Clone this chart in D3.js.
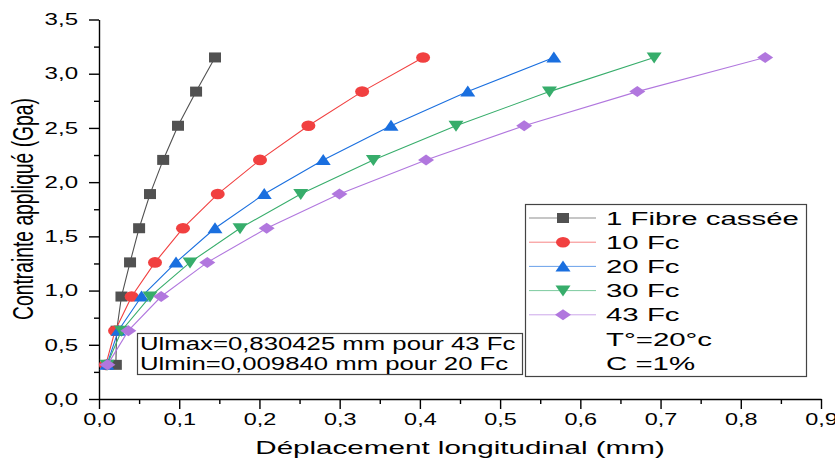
<!DOCTYPE html>
<html>
<head>
<meta charset="utf-8">
<script src="https://cdn.jsdelivr.net/npm/d3@7"></script>
<style>
body { margin: 0; background: #fff; }
svg { display: block; font-family: "Liberation Sans", Arial, sans-serif; }
</style>
</head>
<body>
<svg id="drawing_region"></svg>
<script>
// load levels (GPa), same for every curve
const stress = [0.315, 0.63, 0.945, 1.26, 1.575, 1.89, 2.205, 2.52, 2.835, 3.15];

// longitudinal displacement (mm)
const disp_1fc  = [0.021, 0.022, 0.028, 0.0387, 0.050, 0.0636, 0.080, 0.0985, 0.121, 0.1446];
const disp_10fc = [0.0085, 0.020, 0.0407, 0.0698, 0.1047, 0.148, 0.2007, 0.261, 0.328, 0.404];
const disp_20fc = [0.00984, 0.024, 0.053, 0.096, 0.1446, 0.206, 0.2795, 0.364, 0.4597, 0.567];
const disp_30fc = [0.0100, 0.028, 0.0636, 0.1135, 0.1758, 0.2515, 0.342, 0.445, 0.5615, 0.692];
const disp_43fc = [0.0105, 0.0366, 0.0775, 0.135, 0.209, 0.2997, 0.4077, 0.530, 0.671, 0.830425];

const series_names = ['1 Fibre cassée', '10 Fc', '20 Fc', '30 Fc', '43 Fc'];
const legend_notes = ['T°=20°c', 'C =1%'];
const annot_lines = ['Ulmax=0,830425 mm pour 43 Fc', 'Ulmin=0,009840 mm pour 20 Fc'];

const x_ticks = [0, 0.1, 0.2, 0.3, 0.4, 0.5, 0.6, 0.7, 0.8, 0.9];
const x_minor = [0.05, 0.15, 0.25, 0.35, 0.45, 0.55, 0.65, 0.75, 0.85];
const y_ticks = [0, 0.5, 1.0, 1.5, 2.0, 2.5, 3.0, 3.5];
const y_minor = [0.25, 0.75, 1.25, 1.75, 2.25, 2.75, 3.25];

const colors = ['#515151', '#F14040', '#1A6FDF', '#37AD6B', '#B177DE'];
const shapes = ['square', 'circle', 'up', 'down', 'diamond'];

function markerPath(shape) {
    if (shape == 'square') return 'M-6,-5h12v10h-12Z';
    if (shape == 'circle') return 'M-7,0A7,5.3 0 1,0 7,0A7,5.3 0 1,0 -7,0Z';
    if (shape == 'up') return 'M0,-6L7.5,5L-7.5,5Z';
    if (shape == 'down') return 'M0,6L7.5,-5L-7.5,-5Z';
    return 'M0,-5.5L8,0L0,5.5L-8,0Z';
}

const fr = d3.formatLocale({decimal: ',', thousands: ' ', grouping: [3], currency: ['', '']});
const fmt = fr.format('.1f');

class CurvePlot {

    constructor(config, data) {
        this.config = {
            parent: config.parent,
            width: config.width || 835,
            height: config.height || 460,
            margin: config.margin || {top: 19.5, right: 14, bottom: 61, left: 99},
            stretch: config.stretch || 1.5,
        }
        this.data = data;
        this.init();
    }

    init() {
        let self = this;

        self.svg = d3.select(self.config.parent)
            .attr('width', self.config.width)
            .attr('height', self.config.height);

        self.chart = self.svg.append('g')
            .attr('transform', `translate(${self.config.margin.left}, ${self.config.margin.top})`);

        self.inner_width = self.config.width - self.config.margin.left - self.config.margin.right;
        self.inner_height = self.config.height - self.config.margin.top - self.config.margin.bottom;

        self.xscale = d3.scaleLinear()
            .domain([0, 0.9])
            .range([0, self.inner_width]);

        self.yscale = d3.scaleLinear()
            .domain([0, 3.5])
            .range([self.inner_height, 0]);

        self.line = d3.line()
            .x(d => self.xscale(d.x))
            .y(d => self.yscale(d.y));
    }

    render() {
        let self = this;
        const sx = 1.42;

        // minor ticks
        self.chart.append('g')
            .attr('transform', `translate(0, ${self.inner_height})`)
            .call(d3.axisBottom(self.xscale).tickValues(x_minor).tickSize(5).tickSizeOuter(0).tickFormat(''))
            .call(g => g.select('.domain').remove());
        self.chart.append('g')
            .call(d3.axisLeft(self.yscale).tickValues(y_minor).tickSize(5).tickSizeOuter(0).tickFormat(''))
            .call(g => g.select('.domain').remove());

        const xg = self.chart.append('g')
            .attr('transform', `translate(0, ${self.inner_height})`)
            .call(d3.axisBottom(self.xscale).tickValues(x_ticks).tickSize(10).tickSizeOuter(0).tickPadding(4).tickFormat(fmt));
        xg.selectAll('text')
            .attr('font-size', '16.5px')
            .attr('transform', `scale(${sx},1)`);

        const yg = self.chart.append('g')
            .call(d3.axisLeft(self.yscale).tickValues(y_ticks).tickSize(10).tickSizeOuter(0).tickFormat(fmt));
        yg.selectAll('text')
            .attr('font-size', '16.5px')
            .attr('x', -21 / 1.46)
            .attr('transform', 'scale(1.46,1)');

        self.chart.selectAll('.domain, .tick line')
            .attr('stroke', '#000')
            .attr('stroke-width', 1.4);
        self.chart.selectAll('.tick text').attr('fill', '#000');

        // curves
        self.data.forEach((s, i) => {
            const pts = s.values.map((v, k) => ({x: v, y: stress[k]}));
            const g = self.chart.append('g');
            g.append('path')
                .datum(pts)
                .attr('fill', 'none')
                .attr('stroke', colors[i])
                .attr('stroke-width', 1.1)
                .attr('d', self.line);
            g.selectAll('path.mk')
                .data(pts)
                .enter()
                .append('path')
                .attr('class', 'mk')
                .attr('d', markerPath(shapes[i]))
                .attr('fill', colors[i])
                .attr('transform', d => `translate(${self.xscale(d.x)}, ${self.yscale(d.y)})`);
        });

        // axis titles
        self.svg.append('text')
            .attr('transform', 'translate(460, 454) scale(1.6,1)')
            .attr('text-anchor', 'middle')
            .attr('font-size', '18.5px')
            .text('Déplacement longitudinal (mm)');

        self.svg.append('text')
            .attr('transform', 'translate(33, 209) scale(1.55,1) rotate(-90)')
            .attr('text-anchor', 'middle')
            .attr('font-size', '19.3px')
            .text('Contrainte appliqué (Gpa)');

        // annotation box
        const ann = self.svg.append('g');
        ann.append('rect')
            .attr('x', 137.5).attr('y', 333.5)
            .attr('width', 385).attr('height', 41)
            .attr('fill', '#fff')
            .attr('stroke', '#444')
            .attr('stroke-width', 1.2);
        annot_lines.forEach((t, i) => {
            ann.append('text')
                .attr('transform', `translate(140, ${350 + i * 20}) scale(1.47,1)`)
                .attr('font-size', '17.5px')
                .text(t);
        });

        // legend
        const lg = self.svg.append('g');
        lg.append('rect')
            .attr('x', 525.5).attr('y', 204.5)
            .attr('width', 281).attr('height', 172)
            .attr('fill', '#fff')
            .attr('stroke', '#444')
            .attr('stroke-width', 1.2);
        self.data.forEach((s, i) => {
            const y = 218 + i * 24.2;
            lg.append('line')
                .attr('x1', 529).attr('x2', 596)
                .attr('y1', y).attr('y2', y)
                .attr('stroke', colors[i])
                .attr('stroke-opacity', 0.65)
                .attr('stroke-width', 1);
            lg.append('path')
                .attr('d', markerPath(shapes[i]))
                .attr('fill', colors[i])
                .attr('transform', `translate(563, ${y})`);
            lg.append('text')
                .attr('transform', `translate(606, ${y + 6.5}) scale(1.59,1)`)
                .attr('font-size', '18.5px')
                .text(s.name);
        });
        legend_notes.forEach((t, i) => {
            const y = 218 + (i + 5) * 24.2;
            lg.append('text')
                .attr('transform', `translate(606, ${y + 6.5}) scale(1.59,1)`)
                .attr('font-size', '18.5px')
                .text(t);
        });
    }
}

const all_disp = [disp_1fc, disp_10fc, disp_20fc, disp_30fc, disp_43fc];
const data = series_names.map((n, i) => ({name: n, values: all_disp[i]}));

const plot = new CurvePlot({parent: '#drawing_region'}, data);
plot.render();
</script>
</body>
</html>
